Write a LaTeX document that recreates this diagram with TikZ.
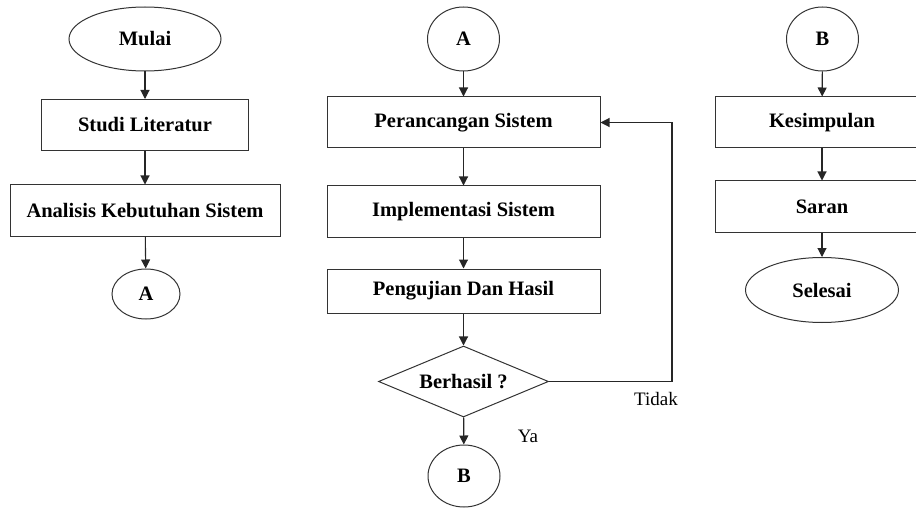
\documentclass[tikz,border=0pt]{standalone}
\usepackage{fontspec}
\setmainfont{Liberation Serif}
\usetikzlibrary{shapes.geometric,arrows.meta}
\begin{document}
\begin{tikzpicture}[x=1pt,y=-1pt,
  base/.style={draw=black!80, line width=1pt, font=\fontsize{20.5}{22}\selectfont\bfseries, inner sep=0pt, align=center},
  procbox/.style={base, rectangle, minimum height=51pt},
  term/.style={base, ellipse, minimum width=152pt, minimum height=64pt},
  conn/.style={base, ellipse, minimum width=72pt, minimum height=64pt},
  decision/.style={base, diamond, aspect=2.4, minimum width=170pt, minimum height=71pt},
  flow/.style={draw=black!85, line width=1.1pt, -{Triangle[length=9pt,width=9pt]}},
  lbl/.style={font=\fontsize{19}{21}\selectfont}
]
\useasboundingbox (0,0) rectangle (916,508);
% left column
\node[term] (mulai) at (145,39) {Mulai};
\node[procbox, minimum width=207pt] (studi) at (145,125) {Studi Literatur};
\node[procbox, minimum width=270pt] (analisis) at (145,210.5) {Analisis Kebutuhan Sistem};
\node[conn, minimum width=68pt, minimum height=50pt] (a1) at (146,294) {A};
\draw[flow] (mulai) -- (studi);
\draw[flow] (studi) -- (analisis);
\draw[flow] (analisis) -- (a1);
% middle column
\node[conn] (a2) at (463.5,39) {A};
\node[procbox, minimum width=273pt] (rancang) at (463.5,122.5) {Perancangan Sistem};
\node[procbox, minimum width=273pt] (impl) at (463.5,211.5) {Implementasi Sistem};
\node[procbox, minimum width=273pt, minimum height=44pt] (uji) at (463.5,291) {Pengujian Dan Hasil};
\node[decision] (hasil) at (463.5,381.5) {Berhasil ?};
\node[conn, minimum height=62pt] (b1) at (464,476) {B};
\coordinate (fb1) at (672,381.5);
\coordinate (fb2) at (672,122.5);
\draw[flow] (a2) -- (rancang);
\draw[flow] (rancang) -- (impl);
\draw[flow] (impl) -- (uji);
\draw[flow] (uji) -- (hasil);
\draw[flow] (hasil) -- (b1);
\draw[flow] (hasil.east) -- (fb1) -- (fb2) -- (rancang.east);
\node[lbl] (tidak) at (656,399) {Tidak};
\node[lbl] (ya) at (528,436) {Ya};
% right column
\node[conn] (b2) at (822.5,39) {B};
\node[procbox, minimum width=214pt] (kes) at (822,122.5) {Kesimpulan};
\node[procbox, minimum width=214pt] (saran) at (822,206.5) {Saran};
\node[term, minimum width=153pt, minimum height=65pt] (selesai) at (822,290) {Selesai};
\draw[flow] (b2) -- (kes);
\draw[flow] (kes) -- (saran);
\draw[flow] (saran) -- (selesai);
\end{tikzpicture}
\end{document}
